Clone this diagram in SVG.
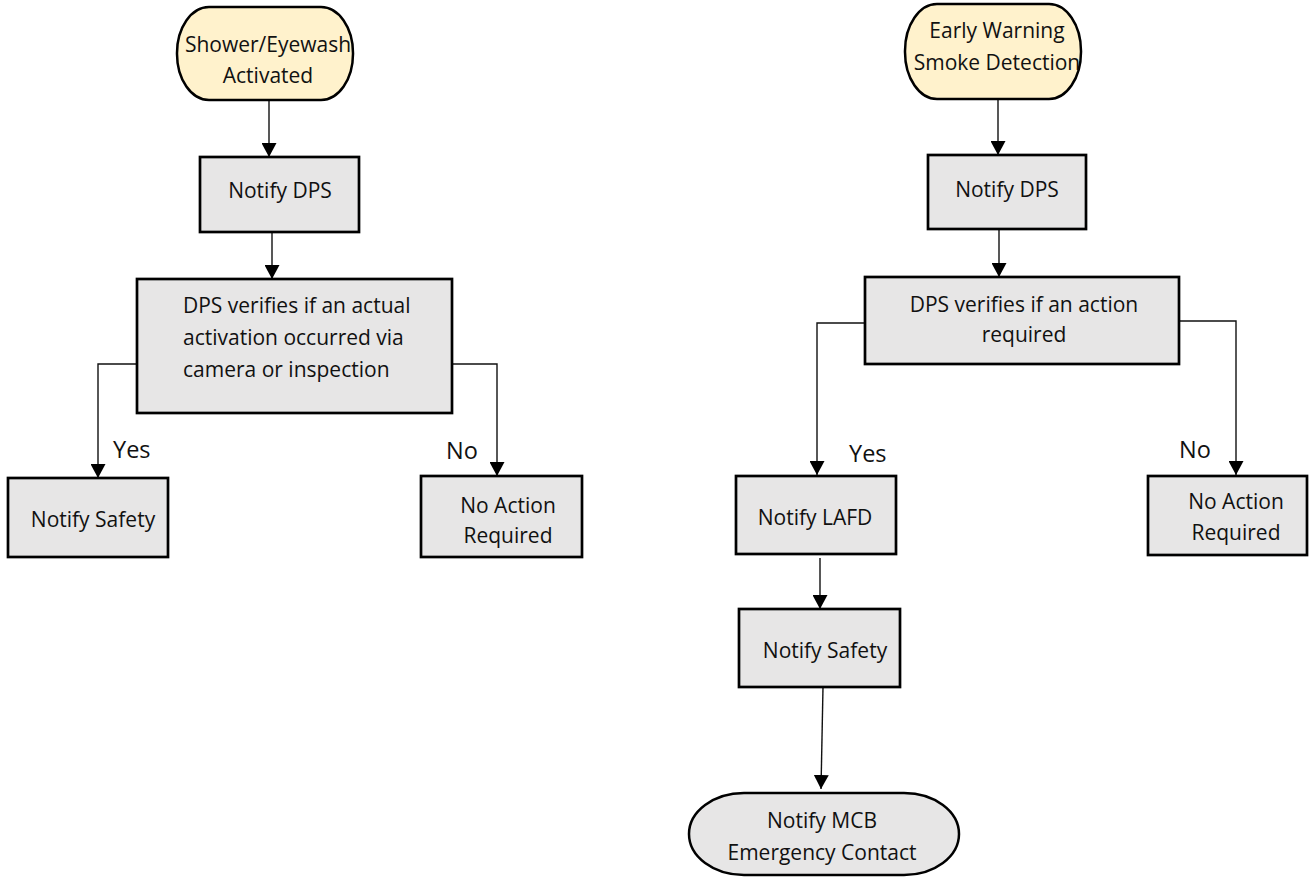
<svg xmlns="http://www.w3.org/2000/svg" width="1310" height="878" viewBox="0 0 1310 878">
<style>
  .term { fill: #FFF2CC; stroke: #000; stroke-width: 2.5; }
  .termg { fill: #E7E6E6; stroke: #000; stroke-width: 2.5; }
  .box { fill: #E7E6E6; stroke: #000; stroke-width: 2.7; }
  .t { font-family: "Open Sans", "Liberation Sans", sans-serif; font-size: 21px; fill: #111; }
  .c { text-anchor: middle; }
  .lbl { font-family: "Open Sans", "Liberation Sans", sans-serif; font-size: 23.5px; fill: #111; }
  .conn { fill: none; stroke: #111; stroke-width: 1.4; }
</style>
<defs>
  <marker id="arr" viewBox="0 0 14 15" refX="14" refY="7.5" markerWidth="14" markerHeight="15" markerUnits="userSpaceOnUse" orient="auto">
    <path d="M0,0 L14,7.5 L0,15 z" fill="#000"/>
  </marker>
</defs>
<rect width="1310" height="878" fill="#fff"/>

<g id="connectors">
  <path class="conn" d="M269,100 V157" marker-end="url(#arr)"/>
  <path class="conn" d="M272,232 V279" marker-end="url(#arr)"/>
  <path class="conn" d="M137,364 H98 V478" marker-end="url(#arr)"/>
  <path class="conn" d="M452,364 H497 V476" marker-end="url(#arr)"/>
  <path class="conn" d="M998,99 V155" marker-end="url(#arr)"/>
  <path class="conn" d="M999,229 V277" marker-end="url(#arr)"/>
  <path class="conn" d="M869,323 H817 V475" marker-end="url(#arr)"/>
  <path class="conn" d="M1179,321 H1236 V475" marker-end="url(#arr)"/>
  <path class="conn" d="M820,558 V609" marker-end="url(#arr)"/>
  <path class="conn" d="M823,687 L821,789" marker-end="url(#arr)"/>
</g>

<g id="labels">
  <text class="lbl" x="113" y="458">Yes</text>
  <text class="lbl" x="446" y="459">No</text>
  <text class="lbl" x="849" y="462">Yes</text>
  <text class="lbl" x="1179" y="458">No</text>
</g>

<g id="start-shower">
  <rect class="term" x="177" y="7" width="176" height="93" rx="32" ry="46"/>
  <text class="t c" x="268" y="52">Shower/Eyewash</text>
  <text class="t c" x="268" y="83">Activated</text>
</g>
<g id="notify-dps-left">
  <rect class="box" x="200" y="157" width="159" height="75"/>
  <text class="t c" x="280" y="198">Notify DPS</text>
</g>
<g id="verify-left">
  <rect class="box" x="137" y="279" width="315" height="134"/>
  <text class="t" x="183" y="313">DPS verifies if an actual</text>
  <text class="t" x="183" y="345">activation occurred via</text>
  <text class="t" x="183" y="377">camera or inspection</text>
</g>
<g id="notify-safety-left">
  <rect class="box" x="8" y="478" width="160" height="79"/>
  <text class="t c" x="93" y="527">Notify Safety</text>
</g>
<g id="no-action-left">
  <rect class="box" x="421" y="476" width="161" height="81"/>
  <text class="t c" x="508" y="513">No Action</text>
  <text class="t c" x="508" y="543">Required</text>
</g>

<g id="start-smoke">
  <rect class="term" x="905" y="4" width="176" height="95" rx="32" ry="47"/>
  <text class="t c" x="997" y="38">Early Warning</text>
  <text class="t c" x="997" y="70">Smoke Detection</text>
</g>
<g id="notify-dps-right">
  <rect class="box" x="928" y="155" width="158" height="74"/>
  <text class="t c" x="1007" y="197">Notify DPS</text>
</g>
<g id="verify-right">
  <rect class="box" x="865" y="277" width="314" height="87"/>
  <text class="t c" x="1024" y="312">DPS verifies if an action</text>
  <text class="t c" x="1024" y="342">required</text>
</g>
<g id="notify-lafd">
  <rect class="box" x="736" y="476" width="160" height="78"/>
  <text class="t c" x="815" y="525">Notify LAFD</text>
</g>
<g id="no-action-right">
  <rect class="box" x="1148" y="476" width="159" height="79"/>
  <text class="t c" x="1236" y="509">No Action</text>
  <text class="t c" x="1236" y="540">Required</text>
</g>
<g id="notify-safety-right">
  <rect class="box" x="739" y="609" width="161" height="78"/>
  <text class="t c" x="825" y="658">Notify Safety</text>
</g>
<g id="notify-mcb">
  <rect class="termg" x="689" y="793" width="270" height="82" rx="55" ry="41"/>
  <text class="t c" x="822" y="828">Notify MCB</text>
  <text class="t c" x="822" y="860">Emergency Contact</text>
</g>
</svg>
